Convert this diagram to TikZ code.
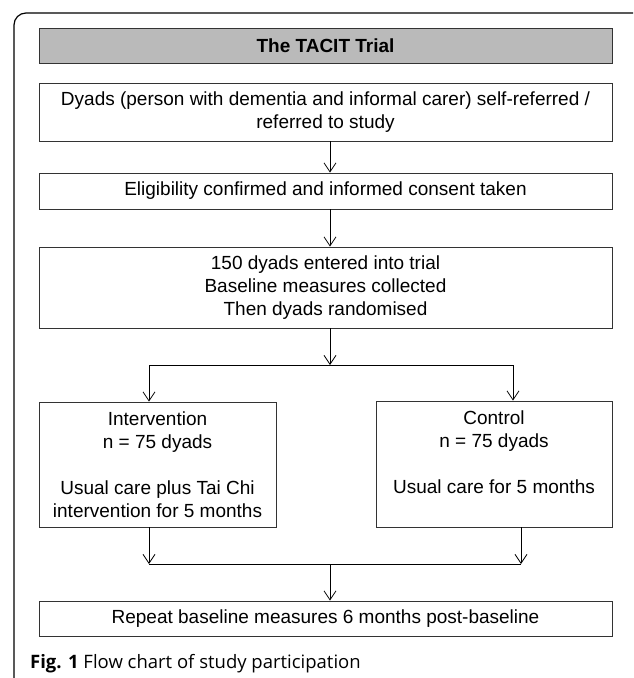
\documentclass[tikz,border=0pt]{standalone}
\usepackage{fontspec}
\setmainfont{Liberation Sans}
\newfontfamily\capfont{Open Sans}
\usetikzlibrary{arrows.meta}
\usetikzlibrary{calc}

\tikzset{
	box/.style={draw=black!80, line width=0.8pt, minimum width=573pt, align=center, inner sep=0pt, font=\fontsize{19}{23}\selectfont},
	flow/.style={line width=0.8pt, -{Straight Barb[length=9pt,width=12pt]}},
}

\begin{document}
\begin{tikzpicture}[x=1pt,y=-1pt]

	\useasboundingbox (0,0) rectangle (633,678);
	\begin{scope}
		\clip (0,0) rectangle (633,678);
		\draw[line width=1.2pt, rounded corners=12pt] (14,13) rectangle (645,690); %outer frame
	\end{scope}

	\node[box, fill=black!27, minimum height=35pt, font=\fontsize{19}{23}\selectfont\bfseries] (title) at (325.5,45.5) {The TACIT Trial};
	\node[box, minimum height=58pt] (refer) at (325.5,112) {Dyads (person with dementia and informal carer) self-referred /\\referred to study};
	\node[box, minimum height=36pt] (elig) at (325.5,191) {Eligibility confirmed and informed consent taken};
	\node[box, minimum height=81pt] (entry) at (325.5,287.5) {150 dyads entered into trial\\Baseline measures collected\\Then dyads randomised};
	\node[box, minimum width=237pt, minimum height=125pt] (interv) at (157.5,464.5) {Intervention\\n = 75 dyads\\[23pt]Usual care plus Tai Chi\\intervention for 5 months};
	\node[box, minimum width=236pt, minimum height=126pt] (ctrl) at (494,464) {Control\\n = 75 dyads\\[23pt]Usual care for 5 months\\\phantom{x}};
	\node[box, minimum height=35pt] (repeat) at (325.5,618.5) {Repeat baseline measures 6 months post-baseline};

	\coordinate (mid) at (330,0);
	\coordinate (split) at (330,365);
	\coordinate (splitl) at (149,365);
	\coordinate (splitr) at (513,365);
	\coordinate (join) at (330,564);
	\coordinate (joinl) at (149,564);
	\coordinate (joinr) at (521,564);

	\draw[flow] (refer.south -| mid) -- (elig.north -| mid);
	\draw[flow] (elig.south -| mid) -- (entry.north -| mid);
	\draw[flow] (entry.south -| mid) -- (split);
	\draw[line width=0.8pt] (splitl) -- (splitr);
	\draw[flow] (splitl) -- (splitl |- interv.north);
	\draw[flow] (splitr) -- (splitr |- ctrl.north);
	\draw[flow] (joinl |- interv.south) -- (joinl);
	\draw[flow] (joinr |- ctrl.south) -- (joinr);
	\draw[line width=0.8pt] (joinl) -- (joinr);
	\draw[flow] (join) -- (repeat.north -| join);

	\node[anchor=base west, inner sep=0pt, font=\capfont\fontsize{18.5}{22}\selectfont] (caption) at (30,668) {\textbf{Fig. 1} Flow chart of study participation};

\end{tikzpicture}
\end{document}
